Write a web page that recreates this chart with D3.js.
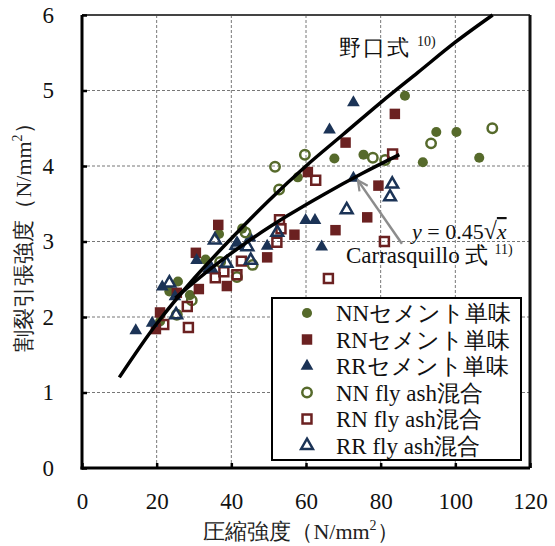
<!DOCTYPE html>
<html>
<head>
<meta charset="utf-8">
<script src="https://cdn.jsdelivr.net/npm/d3@7/dist/d3.min.js"></script>
<style>
html,body{margin:0;padding:0;background:#fff;}
svg{display:block;}
</style>
</head>
<body>
<svg id="chart" width="555" height="546"></svg>
<script>
// ---- data ----
const xTicks = [0, 20, 40, 60, 80, 100, 120];
const yTicks = [0, 1, 2, 3, 4, 5, 6];

const nnCement = [[20.9,1.94],[23.4,2.34],[25.7,2.47],[28.9,2.29],[33.1,2.76],[36.7,3.10],[42.9,3.17],[57.8,3.85],[67.6,4.10],[75.4,4.15],[86.5,4.93],[91.3,4.05],[94.9,4.45],[100.3,4.45],[106.4,4.11]];
const rnCement = [[19.8,1.84],[20.9,2.06],[25.4,2.32],[30.5,2.85],[31.3,2.37],[36.5,3.22],[38.8,2.41],[49.6,2.79],[56.9,3.09],[60.5,3.92],[67.9,3.15],[70.6,4.31],[76.4,3.32],[79.4,3.74],[83.8,4.69]];
const rrCement = [[14.4,1.82],[18.8,1.92],[21.5,2.40],[24.9,2.27],[30.7,2.75],[34.3,2.62],[41.6,2.98],[45.0,3.05],[49.6,2.94],[59.9,3.28],[62.4,3.28],[64.2,2.93],[66.3,4.48],[72.7,4.84],[72.7,3.84]];
const nnFly = [[25.4,2.03],[29.4,2.22],[37.0,2.73],[41.5,2.53],[45.7,2.69],[43.8,3.12],[51.7,3.99],[52.8,3.69],[59.7,4.15],[77.9,4.11],[81.2,4.08],[93.5,4.30],[109.9,4.50]];
const rnFly = [[21.9,1.90],[28.2,2.14],[28.5,1.86],[35.7,2.52],[38.0,2.60],[41.5,2.56],[42.7,2.74],[52.2,2.99],[53.3,3.17],[52.9,3.29],[62.6,3.81],[66.0,2.51],[81.0,3.00],[83.2,4.16]];
const rrFly = [[23.4,2.45],[25.2,2.03],[34.4,2.65],[35.6,3.02],[38.7,2.71],[41.4,2.95],[44.3,2.93],[45.2,2.75],[52.3,3.12],[70.9,3.42],[82.5,3.59],[83.1,3.76]];

// curves
const noguchiCurve = [[10,1.20],[20,1.91],[30,2.51],[40,3.04],[50,3.54],[60,4.00],[70,4.42],[80,4.84],[90,5.24],[100,5.64],[110,6.00]];
const carrasquilloCurve = [[25,2.25],[35,2.66],[45,3.02],[55,3.34],[65,3.63],[75,3.90],[85,4.15]];
const arrowLine = [[85.7,2.97],[73.9,3.81]];

const seriesNames = ["NNセメント単味","RNセメント単味","RRセメント単味","NN fly ash混合","RN fly ash混合","RR fly ash混合"];

// ---- layout ----
const FONT = '"Liberation Serif"';
const svg = d3.select("#chart");
const L = 82, R = 530, T = 15, B = 468;
const x = d3.scaleLinear().domain([0,120]).range([L,R]);
const y = d3.scaleLinear().domain([0,6]).range([B,T]);

const GREEN = "#566a2b", RED = "#6b2121", NAVY = "#1b3356";

// grid
const g = svg.append("g");
g.selectAll(".gx").data(xTicks.filter(d=>d>0 && d<120)).enter().append("line")
  .attr("x1",d=>x(d)).attr("x2",d=>x(d)).attr("y1",T).attr("y2",B)
  .attr("stroke","#777").attr("stroke-width",1).attr("stroke-dasharray","3,2");
g.selectAll(".gy").data(yTicks.filter(d=>d>0 && d<6)).enter().append("line")
  .attr("y1",d=>y(d)).attr("y2",d=>y(d)).attr("x1",L).attr("x2",R)
  .attr("stroke","#777").attr("stroke-width",1).attr("stroke-dasharray","3,2");

// frame top/right
svg.append("line").attr("x1",L).attr("x2",R).attr("y1",T).attr("y2",T).attr("stroke","#444").attr("stroke-width",2);
svg.append("line").attr("x1",R).attr("x2",R).attr("y1",T).attr("y2",B).attr("stroke","#111").attr("stroke-width",3);

// markers
const sym = {
  circle: d3.symbol().type(d3.symbolCircle).size(80),
  square: d3.symbol().type(d3.symbolSquare).size(110),
  triangle: d3.symbol().type(d3.symbolTriangle).size(70),
  ocircle: d3.symbol().type(d3.symbolCircle).size(70),
  osquare: d3.symbol().type(d3.symbolSquare).size(80),
  otriangle: d3.symbol().type(d3.symbolTriangle).size(60)
};
const seriesDefs = [
  {data:nnCement, s:"circle", color:GREEN, filled:true},
  {data:rnCement, s:"square", color:RED, filled:true},
  {data:rrCement, s:"triangle", color:NAVY, filled:true},
  {data:nnFly, s:"ocircle", color:GREEN, filled:false},
  {data:rnFly, s:"osquare", color:RED, filled:false},
  {data:rrFly, s:"otriangle", color:NAVY, filled:false}
];
function drawSym(sel, def){
  sel.attr("d", sym[def.s]())
    .attr("fill", def.filled ? def.color : "none")
    .attr("stroke", def.filled ? "none" : def.color)
    .attr("stroke-width", def.filled ? 0 : 2.5);
}
seriesDefs.forEach(def=>{
  svg.append("g").selectAll("path").data(def.data).enter().append("path")
    .attr("transform", d=>`translate(${x(d[0])},${y(d[1])})`)
    .call(drawSym, def);
});

// curves
const line = d3.line().x(d=>x(d[0])).y(d=>y(d[1])).curve(d3.curveCatmullRom);
svg.append("path").datum(noguchiCurve).attr("d",line).attr("fill","none").attr("stroke","#000").attr("stroke-width",3.5);
svg.append("path").datum(carrasquilloCurve).attr("d",line).attr("fill","none").attr("stroke","#000").attr("stroke-width",3.5);

// arrow
svg.append("defs").append("marker").attr("id","arr").attr("viewBox","0 0 12 12").attr("refX",11).attr("refY",6)
  .attr("markerWidth",12).attr("markerHeight",12).attr("markerUnits","userSpaceOnUse").attr("orient","auto")
  .append("path").attr("d","M1,1 L11,6 L1,11").attr("fill","none").attr("stroke","#8c8c8c").attr("stroke-width",2.2);
svg.append("path").datum(arrowLine).attr("d",d3.line().x(d=>x(d[0])).y(d=>y(d[1])))
  .attr("stroke","#8c8c8c").attr("stroke-width",2.5).attr("fill","none").attr("marker-end","url(#arr)");

// annotations
const noguchi = svg.append("text").attr("x",339).attr("y",55).attr("font-size",22).attr("fill","#111");
noguchi.append("tspan").text("野口式").attr("letter-spacing","2");
noguchi.append("tspan").text("10)").attr("font-size",14).attr("dx",6).attr("dy",-9);

const eq = svg.append("text").attr("x",412).attr("y",239).attr("font-size",22).attr("fill","#111");
eq.append("tspan").text("y").attr("font-style","italic");
eq.append("tspan").text(" = 0.45");
eq.append("tspan").text("√").attr("font-size",24);
eq.append("tspan").text("x").attr("font-style","italic").attr("text-decoration","overline");

const car = svg.append("text").attr("x",346).attr("y",263).attr("font-size",23).attr("fill","#111");
car.append("tspan").text("Carrasquillo 式");
car.append("tspan").text("11)").attr("font-size",14).attr("dx",6).attr("dy",-9);

// axes
const ax = svg.append("g").attr("transform",`translate(${L},0)`)
  .call(d3.axisLeft(y).tickValues(yTicks).tickSizeInner(-5).tickSizeOuter(0).tickPadding(28).tickFormat(d3.format("d")));
const bx = svg.append("g").attr("transform",`translate(0,${B})`)
  .call(d3.axisBottom(x).tickValues(xTicks).tickSizeInner(-5).tickSizeOuter(0).tickPadding(25).tickFormat(d3.format("d")));
[ax,bx].forEach(a=>{
  a.attr("font-family",null).attr("font-size",null);
  a.select(".domain").attr("stroke","#000").attr("stroke-width",3);
  a.selectAll(".tick line").attr("stroke","#000").attr("stroke-width",2.5);
  a.selectAll(".tick text").attr("font-size",23).attr("fill","#111");
});
ax.select(".domain").attr("d",`M0,${T}V${B+1.5}`);
bx.select(".domain").attr("d",`M${L-1.5},0H${R}`);

// axis titles
const xt = svg.append("text").attr("x",301).attr("y",539).attr("text-anchor","middle").attr("font-size",22).attr("fill","#222");
xt.append("tspan").text("圧縮強度（N/mm");
xt.append("tspan").text("2").attr("font-size",14).attr("dy",-9);
xt.append("tspan").text("）").attr("dy",9);

const yt = svg.append("text").attr("transform","translate(31,232) rotate(-90)").attr("text-anchor","middle").attr("font-size",22).attr("fill","#222");
yt.append("tspan").text("割裂引張強度（N/mm");
yt.append("tspan").text("2").attr("font-size",14).attr("dy",-9);
yt.append("tspan").text("）").attr("dy",9);

// legend
const lg = svg.append("g");
lg.append("rect").attr("x",272).attr("y",298).attr("width",249).attr("height",162)
  .attr("fill","#fff").attr("stroke","#000").attr("stroke-width",2);
seriesDefs.forEach((def,i)=>{
  const cy = 313 + i*26.5;
  lg.append("path").attr("transform",`translate(307,${cy})`).call(drawSym, def);
  lg.append("text").attr("x",336).attr("y",cy+8).attr("font-size",23).attr("fill","#111").text(seriesNames[i]);
});

// fonts applied directly to every text element
svg.selectAll("text").style("font-family", FONT);
</script>
</body>
</html>
